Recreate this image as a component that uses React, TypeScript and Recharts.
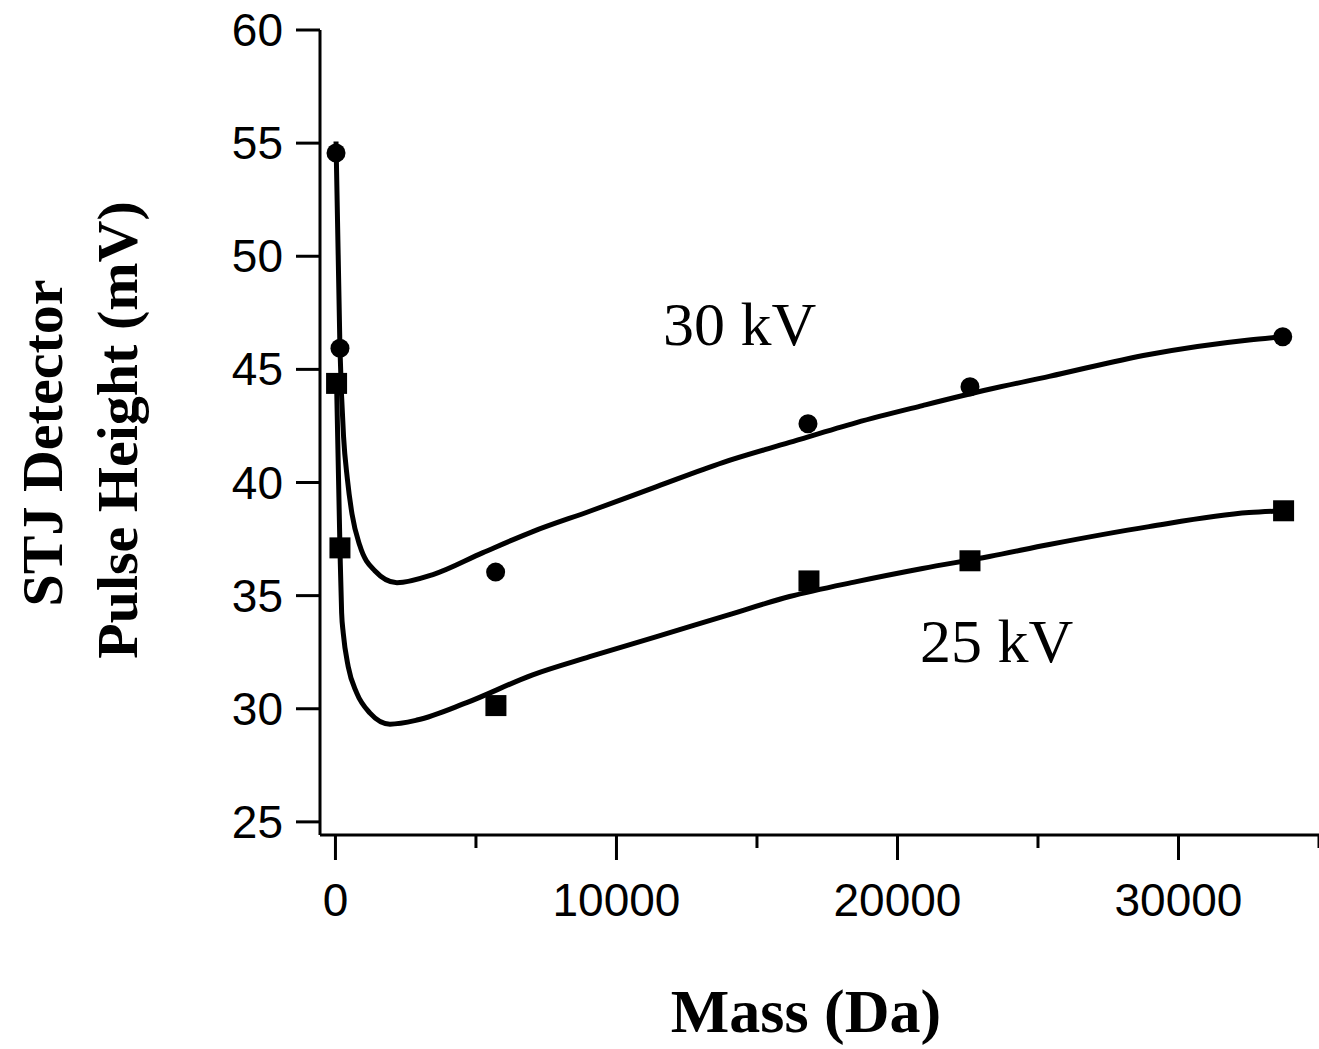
import {
  ComposedChart,
  Line,
  Scatter,
  XAxis,
  YAxis,
} from "recharts";

// measured points (Mass in Da, pulse height in mV)
const mass30 = [20, 160, 5700, 16815, 22580, 33710];
const pulse30 = [54.56, 45.93, 36.04, 42.6, 44.23, 46.44];

const mass25 = [40, 160, 5710, 16850, 22580, 33740];
const pulse25 = [44.38, 37.11, 30.14, 35.65, 36.54, 38.75];

// fitted curves
const fitMass30 = [20, 160, 290, 420, 590, 870, 1400, 2190, 3470, 5250, 7020, 9047, 11430, 13780, 16160, 18540, 20890, 23270, 25400, 28950, 32510, 33710];
const fitPulse30 = [55.07, 45.93, 42.0, 40.2, 38.6, 37.2, 36.1, 35.57, 35.93, 36.9, 37.83, 38.73, 39.82, 40.88, 41.77, 42.65, 43.4, 44.12, 44.69, 45.66, 46.3, 46.44];

const fitMass25 = [40, 160, 220, 277, 455, 755, 1230, 1940, 2900, 4670, 7020, 9047, 11430, 13780, 16160, 18540, 20890, 23270, 25400, 28950, 32510, 33740];
const fitPulse25 = [44.38, 37.11, 34.23, 33.35, 31.86, 30.7, 29.81, 29.32, 29.5, 30.27, 31.5, 32.3, 33.19, 34.07, 34.96, 35.62, 36.2, 36.73, 37.26, 38.05, 38.67, 38.75];

const X_TICKS = [0, 5000, 10000, 15000, 20000, 25000, 30000, 35000];
const Y_TICKS = [25, 30, 35, 40, 45, 50, 55, 60];

const pts = (xs: number[], ys: number[]) => xs.map((x, i) => ({ x, y: ys[i] }));

const data30 = pts(mass30, pulse30);
const data25 = pts(mass25, pulse25);
const fit30 = pts(fitMass30, fitPulse30);
const fit25 = pts(fitMass25, fitPulse25);

const SANS = "'Liberation Sans', Arial, Helvetica, sans-serif";
const SERIF = "'Liberation Serif', 'Times New Roman', serif";

function MassTick({ x, y, payload }: any) {
  const major = payload.value % 10000 === 0;
  return (
    <g>
      <line x1={x} x2={x} y1={y} y2={y + (major ? 25 : 13)} stroke="#000" strokeWidth={3} />
      {major && (
        <text x={x} y={y + 81} textAnchor="middle" fontSize={46} fontFamily={SANS} fill="#000">
          {payload.value}
        </text>
      )}
    </g>
  );
}

function PulseTick({ x, y, payload }: any) {
  return (
    <g>
      <line x1={x - 24} x2={x} y1={y} y2={y} stroke="#000" strokeWidth={3} />
      <text x={x - 37} y={y + 16} textAnchor="end" fontSize={46} fontFamily={SANS} fill="#000">
        {payload.value}
      </text>
    </g>
  );
}

const CircleMark = (p: any) => <circle cx={p.cx} cy={p.cy} r={9.5} fill="#000" />;
const SquareMark = (p: any) => (
  <rect x={p.cx - 10.5} y={p.cy - 10.5} width={21} height={21} fill="#000" />
);

export default function App() {
  return (
    <div style={{ position: "absolute", left: 0, top: 0, width: 1319, height: 1049, background: "#fff" }}>
      <ComposedChart width={1319} height={1049} margin={{ top: 30, right: 0, bottom: 0, left: 0 }}>
        <XAxis
          dataKey="x"
          type="number"
          domain={[-550, 35000]}
          allowDataOverflow
          ticks={X_TICKS}
          interval={0}
          height={214}
          tickSize={0}
          tickMargin={0}
          tickLine={false}
          axisLine={{ stroke: "#000", strokeWidth: 3 }}
          tick={<MassTick />}
        />
        <YAxis
          dataKey="y"
          type="number"
          domain={[24.42, 60]}
          allowDataOverflow
          ticks={Y_TICKS}
          interval={0}
          width={320}
          tickSize={0}
          tickMargin={0}
          tickLine={false}
          axisLine={{ stroke: "#000", strokeWidth: 3 }}
          tick={<PulseTick />}
        />
        <Line data={fit30} dataKey="y" type="monotone" stroke="#000" strokeWidth={5} dot={false} activeDot={false} isAnimationActive={false} />
        <Line data={fit25} dataKey="y" type="monotone" stroke="#000" strokeWidth={5} dot={false} activeDot={false} isAnimationActive={false} />
        <Scatter data={data30} shape={CircleMark} isAnimationActive={false} />
        <Scatter data={data25} shape={SquareMark} isAnimationActive={false} />
      </ComposedChart>
      <svg
        width={1319}
        height={1049}
        style={{ position: "absolute", left: 0, top: 0, pointerEvents: "none" }}
      >
        <text x={663} y={345} fontSize={62} fontFamily={SERIF} fill="#000">30 kV</text>
        <text x={920} y={662} fontSize={62} fontFamily={SERIF} fill="#000">25 kV</text>
        <text x={806} y={1032} textAnchor="middle" fontSize={62} fontWeight="bold" fontFamily={SERIF} fill="#000">
          Mass (Da)
        </text>
        <text
          transform="translate(62,443) rotate(-90)"
          textAnchor="middle"
          fontSize={58}
          fontWeight="bold"
          fontFamily={SERIF}
          fill="#000"
        >
          STJ Detector
        </text>
        <text
          transform="translate(137,430) rotate(-90)"
          textAnchor="middle"
          fontSize={58}
          fontWeight="bold"
          fontFamily={SERIF}
          fill="#000"
        >
          Pulse Height (mV)
        </text>
      </svg>
    </div>
  );
}
